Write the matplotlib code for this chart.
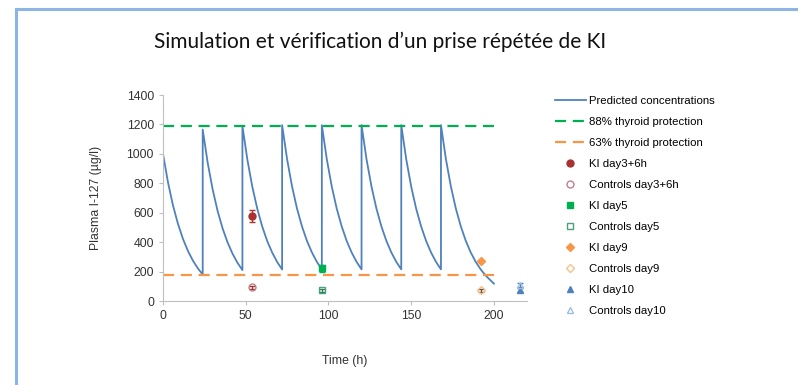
import matplotlib
matplotlib.use("Agg")
import matplotlib.pyplot as plt
from matplotlib.patches import Rectangle

# dose times (h) and hours after each dose at which the curve was read
dose_times = [0, 24, 48, 72, 96, 120, 144, 168]
cycle_hours = [0, 3, 6, 9, 12, 15, 18, 21, 24]
tail_hours = [0, 3, 6, 9, 12, 15, 18, 21, 24, 27, 30, 32]

# predicted concentration read after each dose (ug/l)
cycle_conc = [
    [1000, 807, 651, 526, 424, 342, 276, 223, 180],
    [1165, 940, 759, 612, 494, 399, 322, 260, 210],
    [1190, 960, 775, 626, 505, 407, 329, 265, 214],
    [1195, 964, 778, 628, 507, 409, 330, 266, 215],
    [1195, 964, 778, 628, 507, 409, 330, 266, 215],
    [1195, 964, 778, 628, 507, 409, 330, 266, 215],
    [1195, 964, 778, 628, 507, 409, 330, 266, 215],
]
tail_conc = [1195, 964, 778, 628, 507, 409, 330, 266, 215, 173, 140, 118]

protect_88 = 1190
protect_63 = 175

# measured points: (time, mean, error)
ki_d3 = (54, 580, 40)
ctrl_d3 = (54, 92, 10)
ki_d5 = (96, 222, 25)
ctrl_d5 = (96, 72, 10)
ki_d9 = (192, 272, 0)
ctrl_d9 = (192, 72, 12)
ki_d10 = (216, 75, 15)
ctrl_d10 = (216, 110, 15)

# build the predicted curve
t_pred = [0]
c_pred = [0]
for d, conc in zip(dose_times[:-1], cycle_conc):
    for h, c in zip(cycle_hours, conc):
        t_pred.append(d + h)
        c_pred.append(c)
for h, c in zip(tail_hours, tail_conc):
    t_pred.append(dose_times[-1] + h)
    c_pred.append(c)

blue = "#4f81bd"
green = "#00b050"
orange = "#f79646"
red = "#a83232"
txt = "#333333"
font = "Liberation Sans"

fig = plt.figure(figsize=(7.98, 3.85), dpi=100)
fig.patches.append(Rectangle((15.5 / 798, -0.1), 1.0, (385 - 8.5) / 385 + 0.1,
                             transform=fig.transFigure, fill=False,
                             edgecolor="#8eb4e3", linewidth=2.2))
fig.text(380 / 798, 1 - 42 / 385, "Simulation et vérification d\u2019un prise répétée de KI",
         ha="center", va="center", fontsize=15, family="Lato", color="#111111")

ax = fig.add_axes([163 / 798, 84 / 385, 364 / 798, 206 / 385])
ax.plot(t_pred, c_pred, color=blue, lw=1.3, label="Predicted concentrations")
ax.plot([0, 200], [protect_88, protect_88], color=green, lw=1.6, ls=(0, (5, 3)),
        label="88% thyroid protection")
ax.plot([0, 200], [protect_63, protect_63], color=orange, lw=1.6, ls=(0, (5, 3)),
        label="63% thyroid protection")

def point(p, marker, face, edge, label, ms=5, ecol="#555555"):
    t, c, e = p
    if e:
        ax.errorbar([t], [c], yerr=[e], fmt="none", ecolor=ecol,
                    elinewidth=0.9, capsize=2)
    ax.plot([t], [c], ls="none", marker=marker, ms=ms, mfc=face, mec=edge,
            label=label)

point(ki_d3, "o", red, red, "KI day3+6h", ecol=red)
point(ctrl_d3, "o", "none", "#c0808a", "Controls day3+6h", ecol=red)
point(ki_d5, "s", green, green, "KI day5", ecol=green)
point(ctrl_d5, "s", "none", "#4aa07a", "Controls day5", ecol="#2e7d4f")
point(ki_d9, "D", orange, orange, "KI day9", ms=4.5)
point(ctrl_d9, "D", "none", "#f5c08a", "Controls day9", ms=4.5, ecol="#6b5540")
point(ki_d10, "^", blue, blue, "KI day10", ecol=blue)
point(ctrl_d10, "^", "none", "#9fbde0", "Controls day10", ecol=blue)

ax.set_xlim(0, 220)
ax.set_ylim(0, 1400)
ax.set_xticks([0, 50, 100, 150, 200])
ax.set_yticks(range(0, 1401, 200))
for s in ["top", "right"]:
    ax.spines[s].set_visible(False)
for s in ["left", "bottom"]:
    ax.spines[s].set_color("#bfbfbf")
ax.tick_params(colors="#bfbfbf", labelcolor=txt, labelsize=8.8, length=3)
for lab in ax.get_xticklabels() + ax.get_yticklabels():
    lab.set_family(font)
ax.set_xlabel("Time (h)", fontsize=8.8, color=txt, family=font, labelpad=24)
ax.set_ylabel("Plasma I-127 (\u00b5g/l)", fontsize=8.8, color=txt, family=font,
              labelpad=18)

ax.legend(loc="upper left", bbox_to_anchor=(555 / 798, 1 - 96 / 385),
          bbox_transform=fig.transFigure, frameon=False,
          prop={"family": font, "size": 8.2},
          handlelength=2.7, handletextpad=0.25, labelspacing=0.97,
          borderpad=0, borderaxespad=0)

plt.savefig("out.png", dpi=100)
